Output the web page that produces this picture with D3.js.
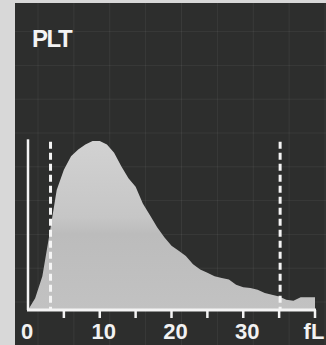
<!DOCTYPE html>
<html>
<head>
<meta charset="utf-8">
<script src="https://cdn.jsdelivr.net/npm/d3@7"></script>
<style>
  body { margin: 0; background: #d6d6d6; }
  svg { display: block; }
</style>
</head>
<body>
<div id="chart"></div>
<script>
const volumes = [0,1,2,3,4,5,6,7,8,9,10,11,12,13,14,15,16,17,18,19,20,21,22,23,24,25,26,27,28,29,30,31,32,33,34,35,36,37,38,39,40]
const counts  = [0,7,20,45,71,83,91,95,98,100,100,98,93,85,78,73,63,56,49,43,38,35,32,27,24,22,20,19,18,15,13.5,13,12,10,9,8,6,5.5,7.5,7.5,7.5]
const tickValues = [5,10,15,20,25,30,35,40]
const labelValues = [0,10,20,30,40]
const labelTexts = ["0","10","20","30","fL"]
const solidMarkers = [0]
const dashedMarkers = [3,35]

const width = 326
const height = 345
const svg = d3.select('#chart').append('svg')
  .attr('width', width)
  .attr('height', height)

// paper + screen
svg.append('rect').attr('width', width).attr('height', height).attr('fill', '#d8d8d8')
svg.append('rect')
  .attr('x', 15).attr('y', 3)
  .attr('width', width - 15).attr('height', height - 3)
  .attr('fill', '#2d2e2d')

const x = d3.scaleLinear().domain([0, 40]).range([28, 315])
const y = d3.scaleLinear().domain([0, 100]).range([310, 141])

// faint screen grid
const grid = svg.append('g').attr('stroke', '#ffffff').attr('stroke-opacity', 0.06)
grid.selectAll('line.v').data(d3.range(0, 45, 5)).enter().append('line')
  .attr('x1', d => x(d) + 10).attr('x2', d => x(d) + 10)
  .attr('y1', 3).attr('y2', height)
grid.selectAll('line.h').data(d3.range(0, 200, 20)).enter().append('line')
  .attr('x1', 15).attr('x2', width)
  .attr('y1', d => y(d) - 8).attr('y2', d => y(d) - 8)

const defs = svg.append('defs')
const grad = defs.append('linearGradient').attr('id', 'fillGrad')
  .attr('x1', 0).attr('x2', 0).attr('y1', 0).attr('y2', 1)
grad.append('stop').attr('offset', '0%').attr('stop-color', '#d2d2d2')
grad.append('stop').attr('offset', '45%').attr('stop-color', '#c6c6c6')
grad.append('stop').attr('offset', '55%').attr('stop-color', '#bcbcbc')
grad.append('stop').attr('offset', '100%').attr('stop-color', '#c2c2c2')

const data = volumes.map((v, i) => ({fl: v, n: counts[i]}))
const area = d3.area()
  .x(d => x(d.fl))
  .y0(y(0))
  .y1(d => y(d.n))
  .curve(d3.curveLinear)

svg.append('path')
  .datum(data)
  .attr('d', area)
  .attr('fill', 'url(#fillGrad)')

// discriminator lines
svg.selectAll('line.solid').data(solidMarkers).enter().append('line')
  .attr('x1', d => x(d)).attr('x2', d => x(d))
  .attr('y1', y(101)).attr('y2', y(0))
  .attr('stroke', '#f4f4f4').attr('stroke-width', 2.5)

svg.selectAll('line.dashed').data(dashedMarkers).enter().append('line')
  .attr('x1', d => x(d) + 1).attr('x2', d => x(d) + 1)
  .attr('y1', y(99.5)).attr('y2', y(0))
  .attr('stroke', '#f4f4f4').attr('stroke-width', 3)
  .attr('stroke-dasharray', '7,4')

// axis
svg.append('line')
  .attr('x1', x(0) - 1).attr('x2', x(40) + 1)
  .attr('y1', y(0)).attr('y2', y(0))
  .attr('stroke', '#f4f4f4').attr('stroke-width', 3)

svg.selectAll('line.tick').data(tickValues).enter().append('line')
  .attr('x1', d => x(d)).attr('x2', d => x(d))
  .attr('y1', y(0)).attr('y2', y(0) + 8)
  .attr('stroke', '#f4f4f4').attr('stroke-width', 2.5)

svg.selectAll('text.lbl').data(labelValues).enter().append('text')
  .text((d, i) => labelTexts[i])
  .attr('x', d => x(d) + (d === 0 ? -1 : d === 40 ? -1 : 4))
  .attr('y', 339)
  .attr('text-anchor', 'middle')
  .attr('font-family', 'Liberation Sans, Arial, sans-serif')
  .attr('font-weight', 'bold')
  .attr('font-size', 22)
  .attr('fill', '#f2f2f2')

svg.append('text')
  .text('PLT')
  .attr('x', 32)
  .attr('y', 47)
  .attr('font-family', 'Liberation Sans, Arial, sans-serif')
  .attr('font-weight', 'bold')
  .attr('font-size', 24)
  .attr('letter-spacing', -1.5)
  .attr('fill', '#f4f4f4')
</script>
</body>
</html>
